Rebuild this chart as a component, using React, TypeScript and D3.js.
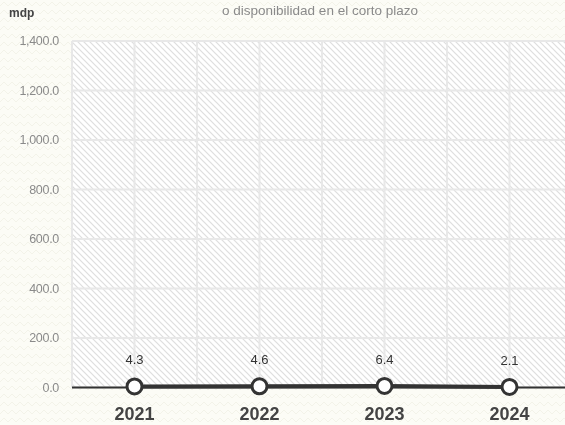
import React from "react";
import * as d3 from "d3";

const years = ["2021", "2022", "2023", "2024"];
const values = [4.3, 4.6, 6.4, 2.1];
const yTicks = [0, 200, 400, 600, 800, 1000, 1200, 1400];
const title = "o disponibilidad en el corto plazo";
const unit = "mdp";

const W = 565;
const H = 425;
const left = 72;
const top = 41;
const bottom = 387.5;

export default function App() {
  const x = d3.scaleBand<string>().domain(years).range([left, left + 500]).padding(0);
  const y = d3.scaleLinear().domain([0, 1400]).range([bottom, top]);
  const cx = (d: string) => (x(d) as number) + x.bandwidth() / 2;
  const line = d3
    .line<number>()
    .x((_, i) => cx(years[i]))
    .y((d) => y(d));
  const vLines: number[] = [];
  years.forEach((d) => {
    vLines.push(x(d) as number);
    vLines.push(cx(d));
  });
  vLines.push(left + 500);
  const font = "'Liberation Sans', Arial, Helvetica, sans-serif";
  return (
    <div style={{ position: "fixed", left: 0, top: 0 }}>
      <svg width={W} height={H} style={{ display: "block" }} fontFamily={font}>
        <defs>
          <pattern id="bg" width="8" height="8" patternUnits="userSpaceOnUse">
            <rect width="8" height="8" fill="#fcfcf6" />
            <path d="M0 6 L4 2 L8 6" fill="none" stroke="#f3f3e9" strokeWidth="1" />
          </pattern>
          <pattern id="hatch" width="6" height="6" patternUnits="userSpaceOnUse">
            <rect width="6" height="6" fill="#ffffff" />
            <path d="M-1 -1 L7 7 M-1 5 L1 7 M5 -1 L7 1" stroke="#dedede" strokeWidth="1.2" />
          </pattern>
        </defs>
        <rect width={W} height={H} fill="url(#bg)" />
        <rect x={left} y={top} width={W - left} height={bottom - top} fill="url(#hatch)" />
        {yTicks.map((t) => (
          <line key={"h" + t} x1={left} x2={W} y1={y(t)} y2={y(t)} stroke="#e8e8e8" strokeWidth={2} />
        ))}
        {vLines.map((v, i) => (
          <line key={"v" + i} x1={v} x2={v} y1={top} y2={bottom} stroke="#e8e8e8" strokeWidth={2} />
        ))}
        {yTicks.map((t) => (
          <text key={"t" + t} x={59} y={y(t)} dy="0.35em" textAnchor="end" fontSize={12.5} fill="#8a8a8a" letterSpacing={-0.3}>
            {d3.format(",.1f")(t)}
          </text>
        ))}
        <text x={9} y={17} fontSize={12} fontWeight="bold" fill="#444">
          {unit}
        </text>
        <text x={320} y={15} textAnchor="middle" fontSize={13.5} fill="#8a8a8a">
          {title}
        </text>
        <line x1={left} x2={W} y1={bottom} y2={bottom} stroke="#333" strokeWidth={2} />
        <path d={line(values) || ""} fill="none" stroke="#333" strokeWidth={4} />
        {values.map((v, i) => (
          <g key={"p" + i}>
            <circle cx={cx(years[i])} cy={y(v)} r={7.5} fill="#fff" stroke="#333" strokeWidth={3} />
            <text x={cx(years[i])} y={y(v) - 22} textAnchor="middle" fontSize={13} fill="#333">
              {v.toFixed(1)}
            </text>
          </g>
        ))}
        {years.map((d) => (
          <text key={"x" + d} x={cx(d)} y={420} textAnchor="middle" fontSize={18} fontWeight="bold" fill="#444">
            {d}
          </text>
        ))}
      </svg>
    </div>
  );
}
